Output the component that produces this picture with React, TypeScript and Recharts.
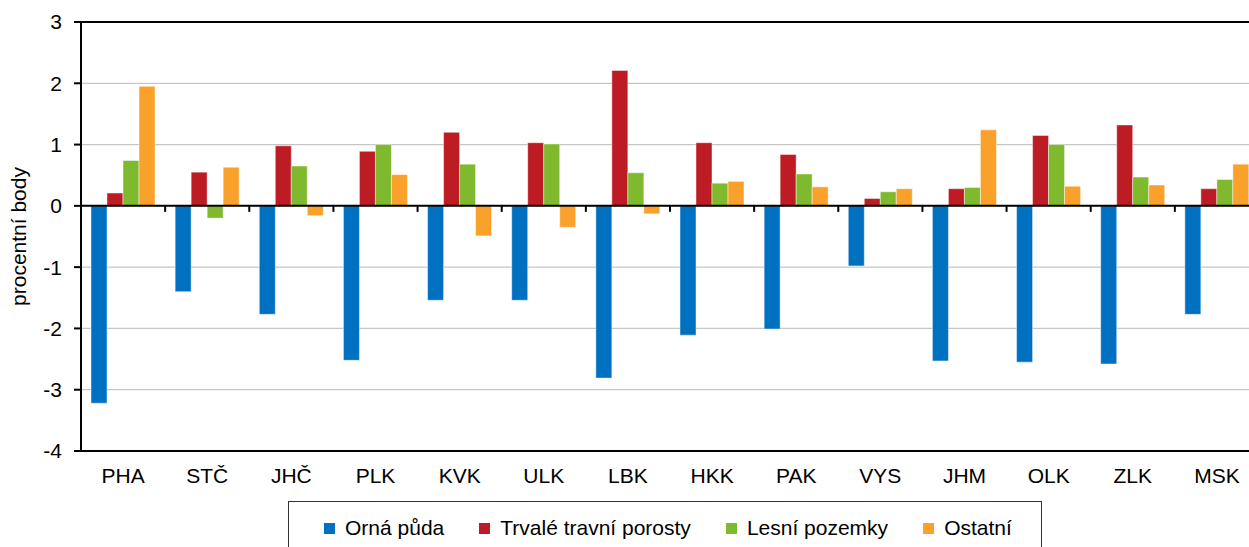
import { Bar, BarChart, CartesianGrid, ReferenceLine, XAxis, YAxis } from 'recharts'

const regions = ['PHA', 'STČ', 'JHČ', 'PLK', 'KVK', 'ULK', 'LBK', 'HKK', 'PAK', 'VYS', 'JHM', 'OLK', 'ZLK', 'MSK']
const ornaPuda = [-3.22, -1.4, -1.77, -2.52, -1.54, -1.54, -2.81, -2.11, -2.01, -0.98, -2.53, -2.55, -2.58, -1.77]
const trvaleTravniPorosty = [0.21, 0.55, 0.98, 0.89, 1.2, 1.03, 2.21, 1.03, 0.84, 0.12, 0.28, 1.15, 1.32, 0.28]
const lesniPozemky = [0.74, -0.2, 0.65, 1.0, 0.68, 1.01, 0.54, 0.37, 0.52, 0.23, 0.3, 1.0, 0.47, 0.43]
const ostatni = [1.95, 0.63, -0.16, 0.51, -0.49, -0.35, -0.13, 0.4, 0.31, 0.28, 1.24, 0.32, 0.34, 0.68]
const yTicks = [-4, -3, -2, -1, 0, 1, 2, 3]

const series = [
  { key: 'orna', name: 'Orná půda', color: '#0070c0' },
  { key: 'trvale', name: 'Trvalé travní porosty', color: '#be1c24' },
  { key: 'lesni', name: 'Lesní pozemky', color: '#7fba2e' },
  { key: 'ostatni', name: 'Ostatní', color: '#f9a12a' },
]

const data = regions.map((region, i) => ({
  region,
  orna: ornaPuda[i],
  trvale: trvaleTravniPorosty[i],
  lesni: lesniPozemky[i],
  ostatni: ostatni[i],
}))

const font = 'Arial, "Liberation Sans", sans-serif'

// zero line with the small category-boundary ticks hanging below it
function ZeroLine(p: any) {
  const { x1, y1, x2 } = p
  const step = (x2 - x1) / regions.length
  return (
    <g>
      <line x1={x1} y1={y1} x2={x2} y2={y1} stroke="#000" strokeWidth={2} />
      {regions.map((_, i) => {
        const x = x1 + step * (i + 1)
        return <line key={i} x1={x} y1={y1} x2={x} y2={y1 + 6} stroke="#000" strokeWidth={2} />
      })}
    </g>
  )
}

export default function App() {
  return (
    <div style={{ position: 'absolute', left: 0, top: 0, width: 1249, height: 547, overflow: 'hidden', background: '#fff', fontFamily: font }}>
      <BarChart
        width={1270}
        height={547}
        data={data}
        margin={{ top: 22, right: 11, left: 0, bottom: 66 }}
        barCategoryGap={10}
        barGap={0}
      >
        <CartesianGrid vertical={false} stroke="#c6c6c6" strokeWidth={1.3} />
        <XAxis
          dataKey="region"
          height={30}
          axisLine={{ stroke: '#000', strokeWidth: 2 }}
          tickLine={false}
          tickSize={6}
          tickMargin={11}
          tick={{ fill: '#000', fontSize: 21, fontFamily: font }}
          interval={0}
        />
        <YAxis
          width={81}
          domain={[-4, 3]}
          ticks={yTicks}
          interval={0}
          axisLine={{ stroke: '#000', strokeWidth: 2 }}
          tickLine={{ stroke: '#000', strokeWidth: 2 }}
          tickSize={7}
          tickMargin={12}
          tick={{ fill: '#000', fontSize: 21, fontFamily: font }}
          label={{ value: 'procentní body', angle: -90, position: 'center', dx: -22, style: { fill: '#000', fontSize: 21, fontFamily: font } }}
        />
        {series.map(s => (
          <Bar key={s.key} dataKey={s.key} name={s.name} fill={s.color} stroke="#ffffff" strokeOpacity={0.45} strokeWidth={1} isAnimationActive={false} />
        ))}
        <ReferenceLine y={3} stroke="#000" strokeWidth={2} />
        <ReferenceLine y={0} shape={ZeroLine} />
      </BarChart>
      <div
        style={{
          position: 'absolute',
          left: 288,
          top: 501,
          width: 754,
          height: 70,
          border: '1px solid #333',
          display: 'flex',
          alignItems: 'flex-start',
          paddingLeft: 35,
          paddingTop: 14,
          boxSizing: 'border-box',
        }}
      >
        {series.map(s => (
          <div key={s.key} style={{ display: 'flex', alignItems: 'center', flexShrink: 0, whiteSpace: 'nowrap', marginRight: 35, fontSize: 21, lineHeight: '24px', color: '#000' }}>
            <span style={{ width: 11, height: 11, background: s.color, display: 'inline-block', marginRight: 10, flexShrink: 0 }} />
            {s.name}
          </div>
        ))}
      </div>
    </div>
  )
}
